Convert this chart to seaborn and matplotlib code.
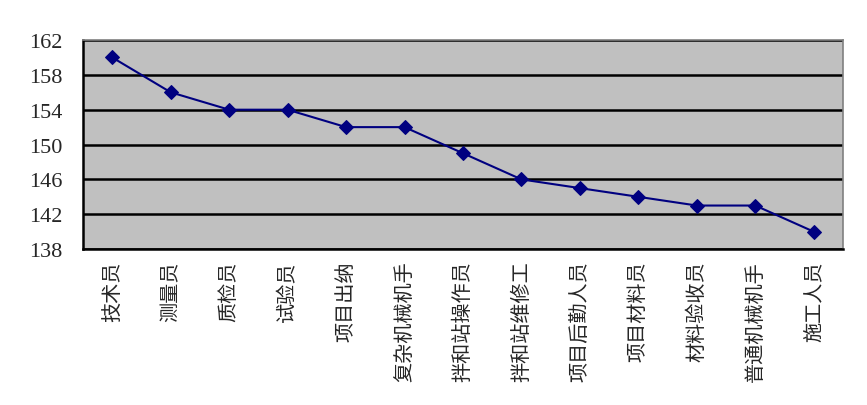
import numpy as np
import pandas as pd
import matplotlib
matplotlib.use("Agg")
import matplotlib.pyplot as plt
import seaborn as sns
from matplotlib.ticker import FixedLocator

positions = ["技术员", "测量员", "质检员", "试验员", "项目出纳", "复杂机械机手",
             "拌和站操作员", "拌和站维修工", "项目后勤人员", "项目材料员",
             "材料验收员", "普通机械机手", "施工人员"]
values = [160, 156, 154, 154, 152, 152, 149, 146, 145, 144, 143, 143, 140]
yticks = [138, 142, 146, 150, 154, 158, 162]

df = pd.DataFrame({"pos": positions, "val": values})

sns.set_style("white")
plt.rcParams['font.family'] = ['Noto Sans CJK SC', 'DejaVu Sans']

fig = plt.figure(figsize=(8.67, 4.06), dpi=100)
ax = fig.add_axes([0.0957, 0.384, 0.8766, 0.515])
ax.set_facecolor("#c0c0c0")

sns.lineplot(data=df, x="pos", y="val", ax=ax, color="#000080", linewidth=1.5,
             marker="D", markersize=7, markeredgecolor="#000080", sort=False)

ax.set_xlim(-0.5, len(positions) - 0.5)
ax.set_ylim(138, 162)
ax.set_yticks(yticks)
ax.set_yticklabels([str(v) for v in yticks], fontfamily="Liberation Serif", fontsize=16)
ax.yaxis.grid(True, color="black", linewidth=1.8)
ax.set_axisbelow(True)

ax.set_xticks(range(len(positions)))
ax.set_xticklabels(positions, rotation=90, fontsize=14.5)
ax.xaxis.set_minor_locator(FixedLocator(np.arange(0.5, len(positions) - 1, 1)))
ax.tick_params(axis="x", which="major", length=0, pad=8)
ax.tick_params(axis="x", which="minor", direction="in", length=6, width=1.8, color="black")
ax.tick_params(axis="y", length=0, pad=15)

ax.set_xlabel("")
ax.set_ylabel("")

for s in ["left", "bottom"]:
    ax.spines[s].set_color("black")
    ax.spines[s].set_linewidth(1.8)
for s in ["top", "right"]:
    ax.spines[s].set_color("#808080")
    ax.spines[s].set_linewidth(1.2)

fig.savefig("out.png", dpi=100)
